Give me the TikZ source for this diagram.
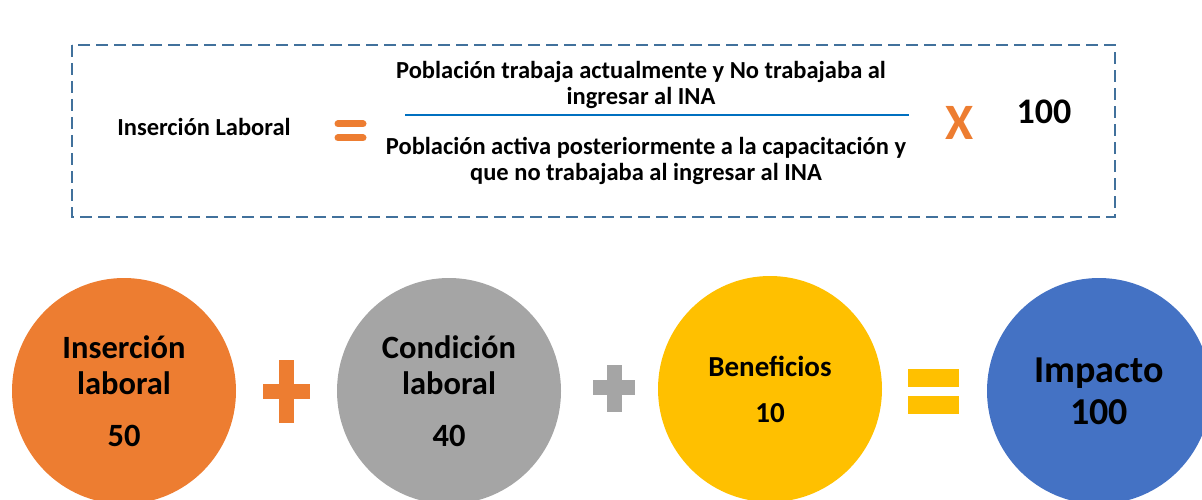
\documentclass[tikz,border=0pt]{standalone}
\usepackage{fontspec}
\setmainfont{Carlito}
\usetikzlibrary{positioning,shapes.geometric}
\definecolor{naranja}{HTML}{ED7D31}
\definecolor{gris}{HTML}{A5A5A5}
\definecolor{amarillo}{HTML}{FFC000}
\definecolor{azul}{HTML}{4472C4}
\definecolor{azulmarco}{HTML}{41719C}
\definecolor{azulbarra}{HTML}{0070C0}
\tikzset{
    % Define style for the circles
    bola/.style={
           ellipse,
           minimum width=224pt,
           minimum height=226pt,
           inner sep=0pt,
           align=center,
           font=\bfseries},
    % Define style for the formula texts
    formula/.style={
           align=center,
           inner sep=0pt,
           font=\bfseries\fontsize{24.5}{26}\selectfont},
    % Dashed frame round the formula
    marco/.style={
           draw=azulmarco,
           line width=2pt,
           dash pattern=on 12pt off 6pt}
}

\begin{document}
\begin{tikzpicture}[x=1pt, y=-1pt]
    \clip (0,0) rectangle (1202,500);
    % formula
    \draw[marco] (72,45) rectangle (1115,217);
    \node[formula] (nombre) at (204,127) {Inserción Laboral};
    \draw[naranja, line width=7pt, line cap=round] (338,124) -- (363,124);
    \draw[naranja, line width=7pt, line cap=round] (338,138) -- (363,138);
    \node[formula] (numerador) at (641,85)
        {Población trabaja actualmente y No trabajaba al\\ingresar al INA};
    \node[formula] (denominador) at (646,161)
        {Población activa posteriormente a la capacitación y\\que no trabajaba al ingresar al INA};
    \coordinate (barraizq) at (405,115);
    \coordinate (barrader) at (909,115);
    \draw[azulbarra, line width=2.5pt] (barraizq) -- (barrader);
    \node[formula, text=naranja, font=\bfseries\fontsize{51}{51}\selectfont] (por) at (960,123) {X};
    \node[formula, font=\bfseries\fontsize{36}{36}\selectfont] (cien) at (1044,112) {100};
    % circles
    \node[bola, fill=naranja, font=\bfseries\fontsize{32.5}{36}\selectfont] (insercion) at (124,391)
        {Inserción\\laboral\\[16pt]50};
    \node[bola, fill=gris, font=\bfseries\fontsize{32.5}{36}\selectfont] (condicion) at (449,391)
        {Condición\\laboral\\[16pt]40};
    \node[bola, fill=amarillo, font=\bfseries\fontsize{29}{30}\selectfont] (beneficios) at (770,389)
        {Beneficios\\[16pt]10};
    \node[bola, fill=azul, font=\bfseries\fontsize{38}{42}\selectfont] (impacto) at (1099,391)
        {Impacto\\100};
    % operators
    \fill[naranja] (263,384) rectangle (310,399);
    \fill[naranja] (279,360) rectangle (294,423);
    \fill[gris] (593,380) rectangle (635,395);
    \fill[gris] (607,365) rectangle (622,412);
    \fill[amarillo] (908,369) rectangle (959,387);
    \fill[amarillo] (908,396) rectangle (959,414);
\end{tikzpicture}
\end{document}
